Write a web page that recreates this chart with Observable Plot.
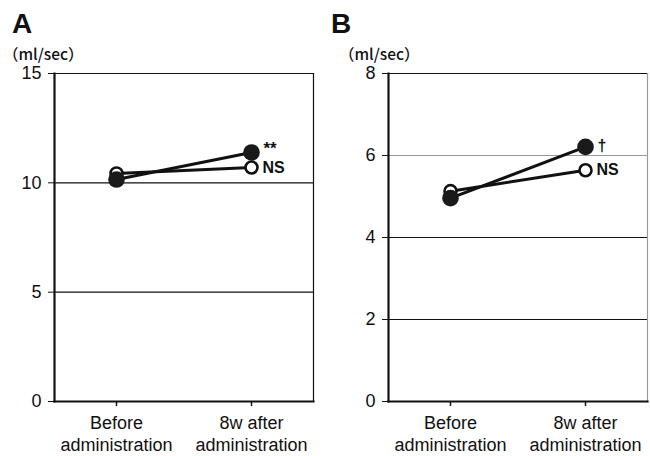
<!DOCTYPE html>
<html>
<head>
<meta charset="utf-8">
<script src="https://cdn.jsdelivr.net/npm/d3@7"></script>
<script src="https://cdn.jsdelivr.net/npm/@observablehq/plot@0.6"></script>
<style>
  html, body { margin: 0; padding: 0; background: #fff; }
  #wrap { position: relative; width: 650px; height: 456px; overflow: hidden; font-family: "Liberation Sans", Arial, sans-serif; }
  .panel { position: absolute; top: 0; }
  .letter { position: absolute; font-weight: bold; font-size: 28px; line-height: 1; color: #111; }
  .unit { position: absolute; font-size: 15.5px; line-height: 1; font-weight: 500; color: #111; font-family: "Noto Sans CJK JP", "Liberation Sans", sans-serif; }
  svg { display: block; }
</style>
</head>
<body>
<div id="wrap"></div>
<script>
// ---- data ----
const xLabels = ["Before\nadministration", "8w after\nadministration"];
const aFilled = [10.15, 11.39];
const aOpen = [10.43, 10.70];
const bFilled = [4.96, 6.21];
const bOpen = [5.13, 5.64];
const aTicks = [0, 5, 10, 15];
const bTicks = [0, 2, 4, 6, 8];
const aGrid = [5, 10];
const bGrid = [2, 4, 6];
const aSig = ["**", "NS"];
const bSig = ["†", "NS"];
const panelLetters = ["A", "B"];
const unitLabel = "（ml/sec）";

function makePanel({filled, open, ticks, grid, gridColors, yMax, sig, sigSize, sigDy, width, marginLeft, marginRight, rightColor}) {
  const rows = (vals, series) => vals.map((v, i) => ({x: xLabels[i], y: v, series}));
  const fRows = rows(filled, "filled");
  const oRows = rows(open, "open");
  const sigRows = [
    {x: xLabels[1], y: filled[1], label: sig[0]},
    {x: xLabels[1], y: open[1], label: sig[1]}
  ];
  const sigFont = {textAnchor: "start", fontWeight: "bold",
    fontFamily: "Liberation Sans Narrow, Liberation Sans, Arial, sans-serif", fill: "#111"};
  return Plot.plot({
    width, height: 456,
    marginLeft, marginRight, marginTop: 73, marginBottom: 55,
    style: {fontFamily: "Liberation Sans, Arial, sans-serif", background: "#fff", color: "#111"},
    x: {type: "point", domain: xLabels, padding: 0.455},
    y: {domain: [0, yMax]},
    marks: [
      Plot.ruleY(grid, {stroke: (d, i) => gridColors[i], strokeWidth: 1.2}),
      Plot.frame({anchor: "top", stroke: "#111", strokeWidth: 1.2}),
      Plot.frame({anchor: "right", stroke: rightColor, strokeWidth: 1.2}),
      Plot.frame({anchor: "left", stroke: "#111", strokeWidth: 2.2}),
      Plot.frame({anchor: "bottom", stroke: "#111", strokeWidth: 2.2}),
      Plot.axisY({ticks, tickSize: 6, tickPadding: 7, fontSize: 18, label: null, stroke: "#111"}),
      Plot.axisX({tickSize: 5, tickPadding: 8, fontSize: 18, lineHeight: 1.17, label: null, stroke: "#111", strokeWidth: 1.5}),
      Plot.line(oRows, {x: "x", y: "y", stroke: "#111", strokeWidth: 3}),
      Plot.line(fRows, {x: "x", y: "y", stroke: "#111", strokeWidth: 3}),
      Plot.dot(oRows, {x: "x", y: "y", r: 6, fill: "#fff", stroke: "#111", strokeWidth: 2.6}),
      Plot.dot(fRows, {x: "x", y: "y", r: 8.3, fill: "#1a1a1a", stroke: "none"}),
      Plot.text(sigRows.slice(0, 1), {x: "x", y: "y", text: "label", dx: 12, dy: sigDy, fontSize: sigSize, ...sigFont}),
      Plot.text(sigRows.slice(1), {x: "x", y: "y", text: "label", dx: 11, dy: 0, fontSize: 16, ...sigFont})
    ]
  });
}

const wrap = document.getElementById("wrap");
const configs = [
  {left: 0, filled: aFilled, open: aOpen, ticks: aTicks, grid: aGrid, gridColors: ["#111", "#111"], yMax: 15, sig: aSig, sigSize: 17, sigDy: -4,
   width: 325, marginLeft: 54, marginRight: 12, rightColor: "#111", letterX: 12, unitX: 3},
  {left: 330, filled: bFilled, open: bOpen, ticks: bTicks, grid: bGrid, gridColors: ["#111", "#111", "#999"], yMax: 8, sig: bSig, sigSize: 16, sigDy: -1,
   width: 320, marginLeft: 58, marginRight: 3, rightColor: "#999", letterX: 1, unitX: 9}
];
configs.forEach((c, i) => {
  const panel = document.createElement("div");
  panel.className = "panel";
  panel.style.left = c.left + "px";
  panel.style.width = c.width + "px";
  panel.style.height = "456px";
  panel.appendChild(makePanel(c));
  const letter = document.createElement("div");
  letter.className = "letter";
  letter.textContent = panelLetters[i];
  letter.style.left = c.letterX + "px";
  letter.style.top = "10px";
  panel.appendChild(letter);
  const unit = document.createElement("div");
  unit.className = "unit";
  unit.textContent = unitLabel;
  unit.style.left = c.unitX + "px";
  unit.style.top = "46px";
  panel.appendChild(unit);
  wrap.appendChild(panel);
});
</script>
</body>
</html>
